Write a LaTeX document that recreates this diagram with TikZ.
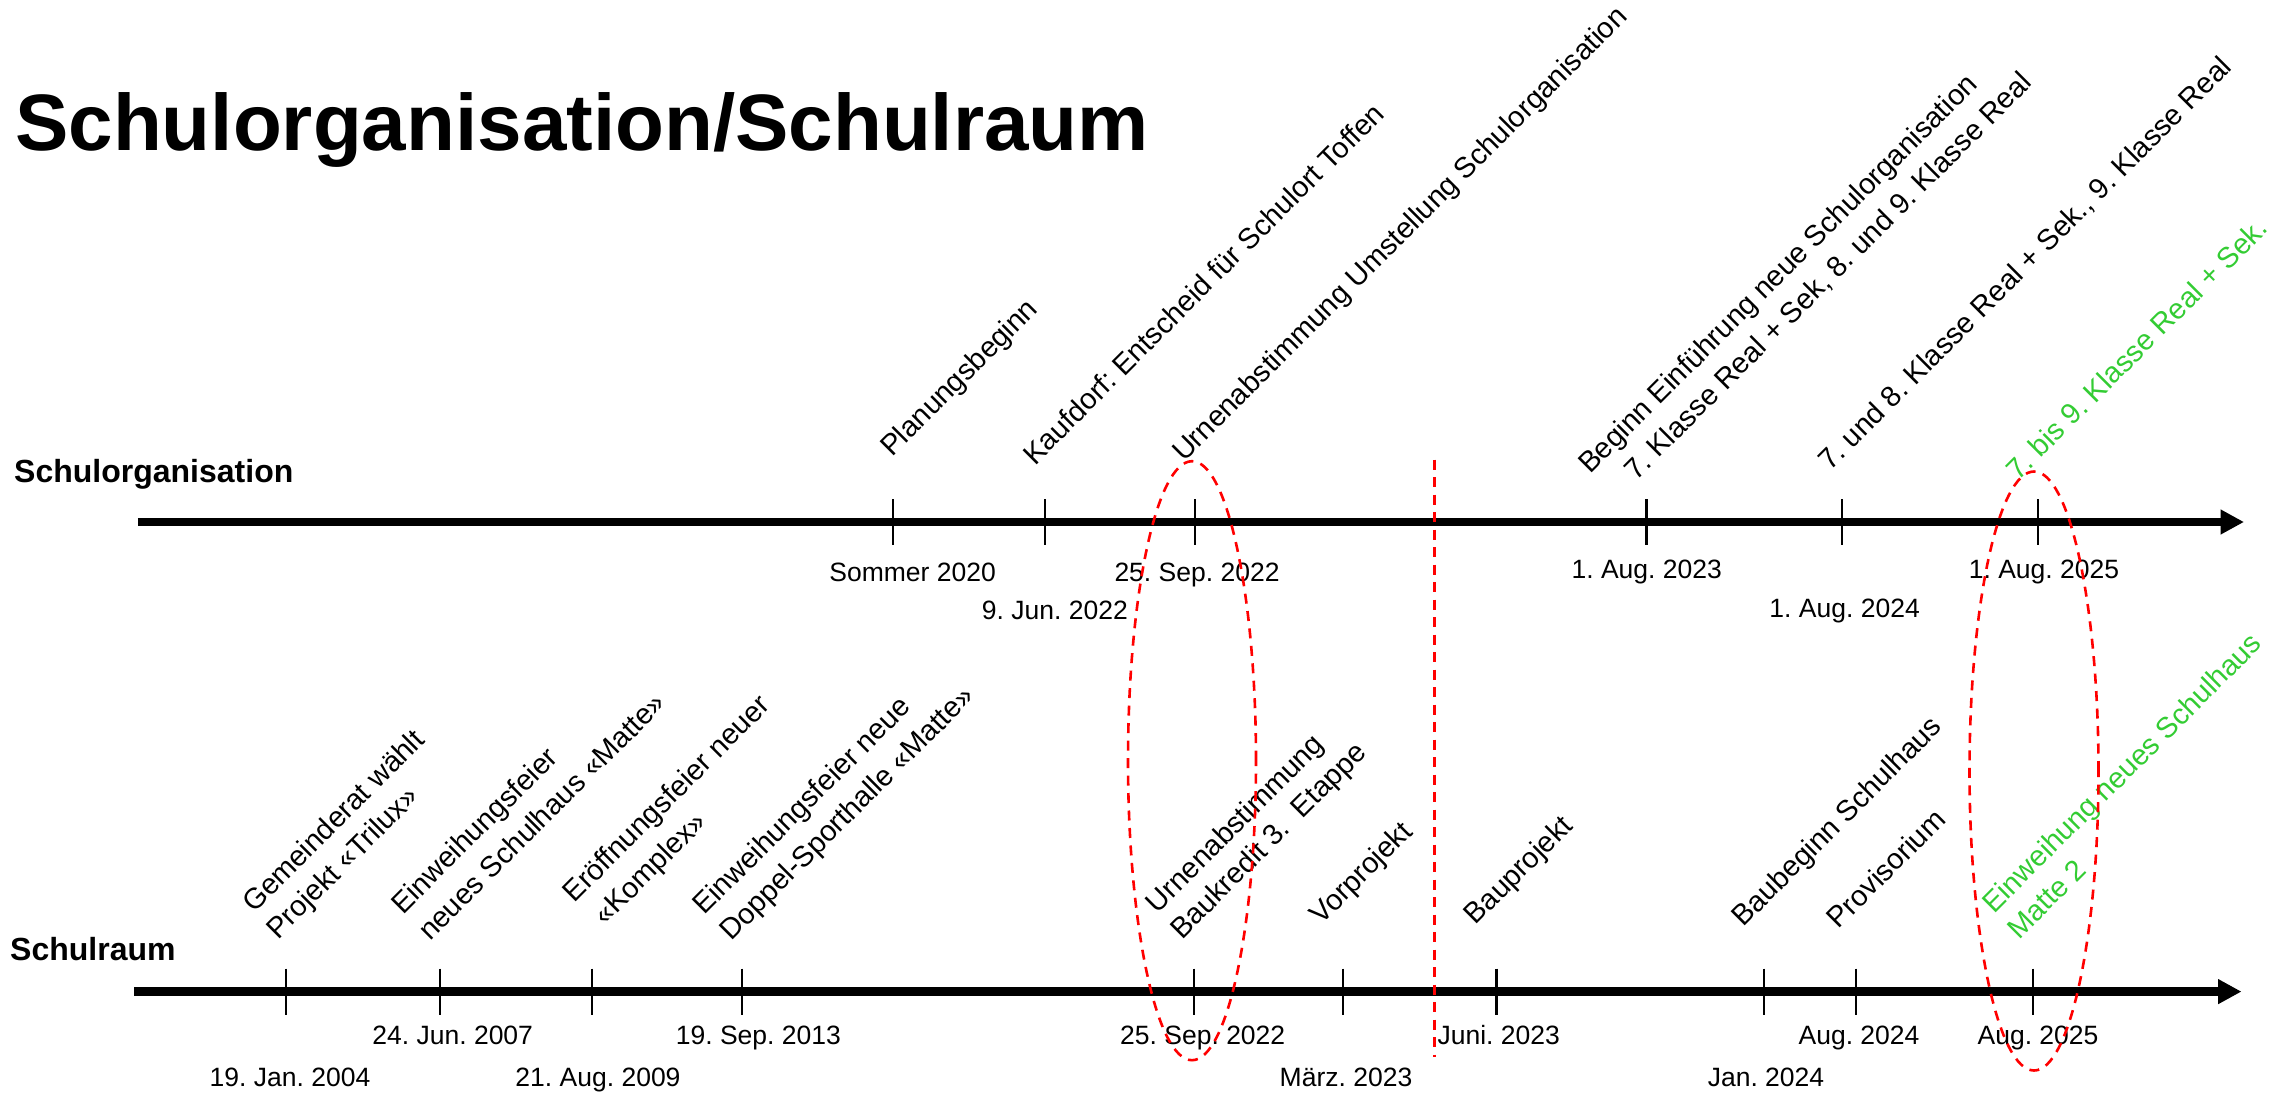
\documentclass[tikz,border=0pt]{standalone}
\usepackage{fontspec}
\setmainfont{Liberation Sans}
\usetikzlibrary{arrows.meta}
\definecolor{lgreen}{RGB}{51,204,51}
\frenchspacing
\begin{document}
\begin{tikzpicture}[x=1pt,y=-1pt,
  lbl/.style={rotate=45, anchor=base west, inner sep=0pt, font=\fontsize{29}{35}\selectfont},
  glbl/.style={lbl, text=lgreen},
  datelbl/.style={anchor=base, inner sep=0pt, font=\fontsize{26.5}{32}\selectfont},
  timeaxis/.style={line width=8.7pt, -{Triangle[length=23.3pt,width=23.3pt]}},
  ticklin/.style={line width=2.1pt},
  reddash/.style={draw=red, line width=2.6pt, dash pattern=on 10pt off 7.5pt},
  heading/.style={anchor=base west, inner sep=0pt, font=\bfseries\fontsize{32}{38}\selectfont}
]
\useasboundingbox (0,0) rectangle (2293,1094);

% title
\node[anchor=base west, inner sep=0pt, font=\bfseries\fontsize{80}{96}\selectfont] (title) at (15,150.8) {Schulorganisation/Schulraum};

% headings
\node[heading] (horg) at (14,482.3) {Schulorganisation};
\node[heading] (hraum) at (10,960) {Schulraum};

% axes
\coordinate (a1s) at (137.8,522);
\coordinate (a1e) at (2244,522);
\coordinate (a2s) at (134,991.6);
\coordinate (a2e) at (2241.5,991.6);
\draw[timeaxis] (a1s) -- (a1e);
\draw[timeaxis] (a2s) -- (a2e);

% top ticks
\foreach \n/\x in {1/893,2/1045.4,3/1195,4/1646.5,5/1842,6/2038.3}{
  \coordinate (tt\n) at (\x,522);
  \draw[ticklin] ([yshift=23pt]tt\n) -- ([yshift=-23pt]tt\n);
}
% bottom ticks
\foreach \n/\x in {1/286,2/440,3/591.6,4/742.3,5/1193.6,6/1342.8,7/1496.5,8/1763.6,9/1855.7,10/2033}{
  \coordinate (bt\n) at (\x,991.6);
  \draw[ticklin] ([yshift=23pt]bt\n) -- ([yshift=-23pt]bt\n);
}

% top dates
\node[datelbl] (td1) at (912.6,581) {Sommer 2020};
\node[datelbl] (td2) at (1054.9,619.4) {9. Jun. 2022};
\node[datelbl] (td3) at (1197,581) {25. Sep. 2022};
\node[datelbl] (td4) at (1646.7,578.5) {1. Aug. 2023};
\node[datelbl] (td5) at (1844.6,617.6) {1. Aug. 2024};
\node[datelbl] (td6) at (2044,578) {1. Aug. 2025};

% bottom dates
\node[datelbl] (bd1) at (290,1086) {19. Jan. 2004};
\node[datelbl] (bd2) at (452.7,1044) {24. Jun. 2007};
\node[datelbl] (bd3) at (598,1086) {21. Aug. 2009};
\node[datelbl] (bd4) at (758.4,1044) {19. Sep. 2013};
\node[datelbl] (bd5) at (1202.7,1044) {25. Sep. 2022};
\node[datelbl] (bd6) at (1346,1086) {März. 2023};
\node[datelbl] (bd7) at (1498.7,1044) {Juni. 2023};
\node[datelbl] (bd8) at (1766,1086) {Jan. 2024};
\node[datelbl] (bd9) at (1859,1044) {Aug. 2024};
\node[datelbl] (bd10) at (2038,1044) {Aug. 2025};

% top rotated labels
\node[lbl] (t1) at (892,458) {Planungsbeginn};
\node[lbl] (t2) at (1035,466.6) {Kaufdorf: Entscheid für Schulort Toffen};
\node[lbl] (t3) at (1184,463) {Urnenabstimmung Umstellung Schulorganisation};
\node[lbl] (t4a) at (1590,475) {Beginn Einführung neue Schulorganisation};
\node[lbl] (t4b) at (1636,481.7) {7. Klasse Real + Sek, 8. und 9. Klasse Real};
\node[lbl] (t5) at (1830,472) {7. und 8. Klasse Real + Sek., 9. Klasse Real};
\node[glbl] (t6) at (2018,481.7) {7. bis 9. Klasse Real + Sek.};

% bottom rotated labels
\node[lbl] (b1a) at (254,914) {Gemeinderat wählt};
\node[lbl] (b1b) at (278,940.3) {Projekt «Trilux»};
\node[lbl] (b2a) at (403,915.5) {Einweihungsfeier};
\node[lbl] (b2b) at (430,942) {neues Schulhaus «Matte»};
\node[lbl] (b3a) at (574.5,903.8) {Eröffnungsfeier neuer};
\node[lbl] (b3b) at (605,926.4) {«Komplex»};
\node[lbl] (b4a) at (704.6,916) {Einweihungsfeier neue};
\node[lbl] (b4b) at (731.4,942) {Doppel-Sporthalle «Matte»};
\node[lbl] (b5a) at (1157.7,914.2) {Urnenabstimmung};
\node[lbl] (b5b) at (1182,940.3) {Baukredit 3.\ \ Etappe};
\node[lbl] (b6) at (1321.3,926) {Vorprojekt};
\node[lbl] (b7) at (1475.8,926) {Bauprojekt};
\node[lbl] (b8) at (1743.6,928) {Baubeginn Schulhaus};
\node[lbl] (b9) at (1838.8,929.9) {Provisorium};
\node[glbl] (b10a) at (1994,914.5) {Einweihung neues Schulhaus};
\node[glbl] (b10b) at (2019,940.3) {Matte 2};

% red dashed marks
\draw[reddash] (1192,760.7) ellipse [x radius=64pt, y radius=299.5pt];
\draw[reddash] (2034,771) ellipse [x radius=64.5pt, y radius=299.5pt];
\coordinate (v1) at (1434.5,459.5);
\coordinate (v2) at (1434.5,1057);
\draw[reddash, line width=2.4pt] (v1) -- (v2);
\end{tikzpicture}
\end{document}
